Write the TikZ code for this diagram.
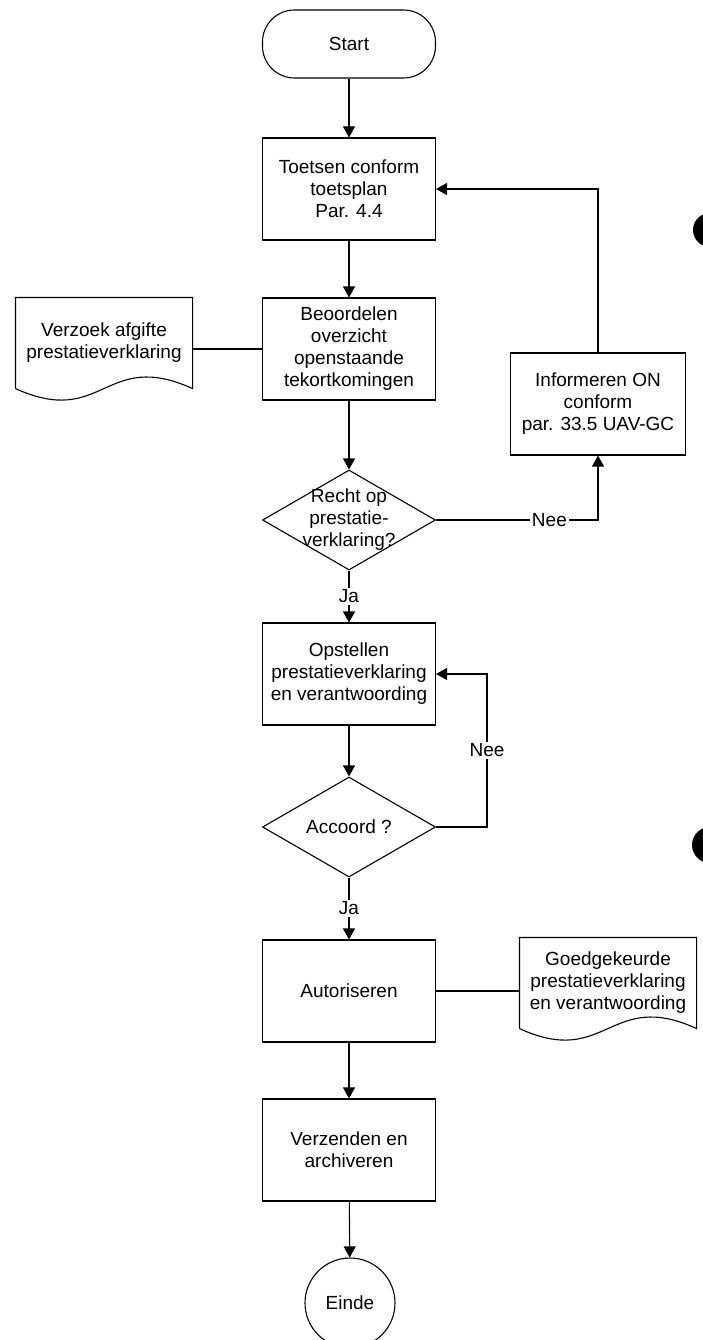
\documentclass[tikz,border=0pt]{standalone}
\usepackage{fontspec}
\setmainfont{Liberation Sans}
\usetikzlibrary{arrows.meta,shapes.geometric}

\begin{document}
\begin{tikzpicture}[x=1pt,y=-1pt,line width=1.1pt,
    every node/.style={font=\fontsize{19}{22}\selectfont},
    terminal/.style={draw,rectangle,rounded corners=32pt,minimum width=173pt,minimum height=68pt},
    process/.style={draw,rectangle,minimum width=173pt,minimum height=102pt,inner sep=2pt,align=center},
    decision/.style={draw,diamond,minimum width=173pt,minimum height=100pt,inner sep=0pt},
    document/.style={rectangle,minimum width=176pt,minimum height=90pt,inner sep=0pt,align=center},
    answer/.style={fill=white,inner sep=2pt},
    flow/.style={-{Triangle[length=11pt,width=12pt]}}]
    \useasboundingbox (0,0) rectangle (703,1340);

    % Main column
    \node[terminal] (start) at (349,44) {Start};
    \node[process] (toets) at (349,189) {Toetsen conform\\toetsplan\\Par. 4.4};
    \node[process] (beoord) at (349,349) {Beoordelen\\overzicht\\openstaande\\tekortkomingen};
    \node[decision,label={[align=center]center:{Recht op\\prestatie-\\verklaring?}}] (recht) at (349,520) {};
    \node[process] (opstel) at (349,674) {Opstellen\\prestatieverklaring\\en verantwoording};
    \node[decision,label={center:{Accoord ?}}] (accoord) at (349,827) {};
    \node[process] (autor) at (349,991) {Autoriseren};
    \node[process] (verzend) at (349,1150) {Verzenden en\\archiveren};
    \node[draw,circle,minimum size=90pt] (einde) at (350,1303) {Einde};

    % Side boxes
    \node[process,minimum width=175pt] (inform) at (598,404) {Informeren ON\\conform\\par. 33.5 UAV-GC};
    \node[document] (verzoek) at (104,343) {Verzoek afgifte\\prestatieverklaring};
    \node[document] (goed) at (608,983) {Goedgekeurde\\prestatieverklaring\\en verantwoording};

    % Document outlines
    \draw (verzoek.south west) -- (verzoek.north west) -- (verzoek.north east) -- (verzoek.south east)
        .. controls +(-88,-40) and +(88,40) .. (verzoek.south west);
    \draw (goed.south west) -- (goed.north west) -- (goed.north east) -- (goed.south east)
        .. controls +(-87,-40) and +(87,40) .. (goed.south west);

    % Flow
    \draw[flow] (start) -- (toets);
    \draw[flow] (toets) -- (beoord);
    \draw[flow] (beoord) -- (recht);
    \draw[flow] (recht.east) -| node[answer,pos=0.35] {Nee} (inform.south);
    \draw[flow] (inform.north) |- (toets.east);
    \draw[flow] (recht.south) -- node[answer] {Ja} (opstel.north);
    \draw[flow] (opstel) -- (accoord);
    \coordinate (terug) at (487,827);
    \draw[flow] (accoord.east) -- (terug) |- node[answer,pos=0.25] {Nee} (opstel.east);
    \draw[flow] (accoord.south) -- node[answer] {Ja} (autor.north);
    \draw[flow] (autor) -- (verzend);
    \draw[flow] (verzend) -- (einde);

    % Documents attached
    \draw (beoord.west) -- (beoord.west -| verzoek.east);
    \draw (autor.east) -- (autor.east -| goed.west);

    % Punch holes
    \fill (710,230) circle (17pt);
    \fill (710,845) circle (18pt);
\end{tikzpicture}
\end{document}
